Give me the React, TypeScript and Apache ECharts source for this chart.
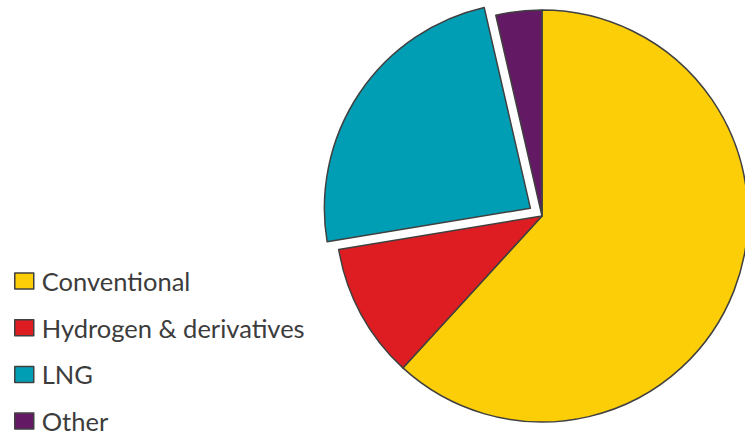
import React, { useEffect, useRef } from "react";
import * as echarts from "echarts";

const categories = ["Conventional", "Hydrogen & derivatives", "LNG", "Other"];
const values = [61.8, 10.6, 24.0, 3.6];
const colors = ["#FBCE07", "#DD1D21", "#009EB4", "#641964"];
const selectedCategory = "LNG";

export default function App() {
  const ref = useRef<HTMLDivElement>(null);
  useEffect(() => {
    if (!ref.current) return;
    const chart = echarts.init(ref.current, undefined, { renderer: "svg" });
    const border = { borderColor: "#404040", borderWidth: 1.5 };
    chart.setOption({
      animation: false,
      backgroundColor: "#ffffff",
      legend: {
        orient: "vertical",
        left: 14,
        top: 268,
        height: 300,
        padding: 0,
        icon: "rect",
        itemWidth: 19,
        itemHeight: 16,
        itemGap: 20.7,
        selectedMode: false,
        data: categories,
        textStyle: {
          fontFamily: "Lato, 'Noto Sans', sans-serif",
          fontSize: 25.5,
          lineHeight: 26,
          color: "#3c3c3c",
          padding: [0, 0, 0, 3],
        },
        itemStyle: border,
      },
      series: [
        {
          type: "pie",
          center: [542, 216],
          radius: [0, 206],
          startAngle: 90,
          clockwise: true,
          selectedMode: "single",
          selectedOffset: 14,
          label: { show: false },
          labelLine: { show: false },
          emphasis: { disabled: true },
          itemStyle: border,
          select: { itemStyle: border },
          data: categories.map((name, i) => ({
            name,
            value: values[i],
            selected: name === selectedCategory,
            itemStyle: { color: colors[i] },
          })),
        },
      ],
    });
    return () => chart.dispose();
  }, []);
  return (
    <div
      ref={ref}
      style={{ position: "absolute", left: 0, top: 0, width: 745, height: 437 }}
    />
  );
}
